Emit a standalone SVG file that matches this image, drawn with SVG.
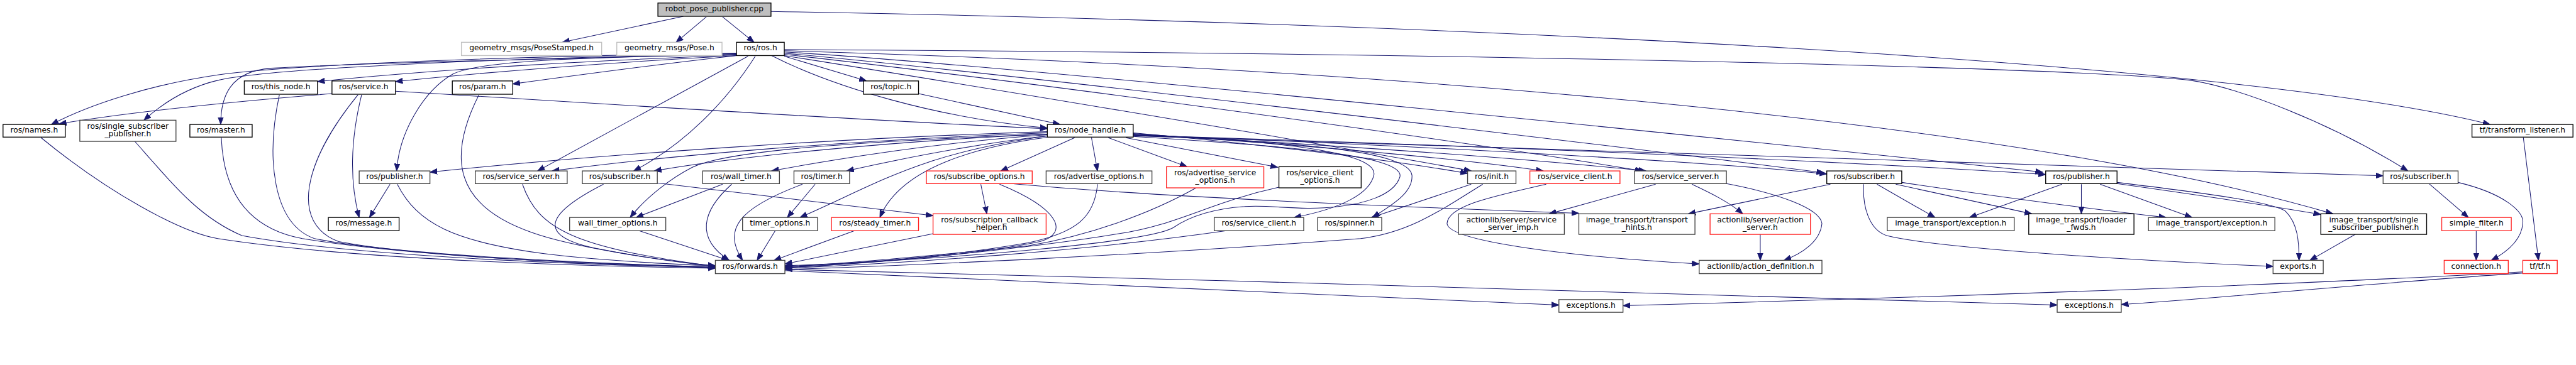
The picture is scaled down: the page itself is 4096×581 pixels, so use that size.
<svg xmlns="http://www.w3.org/2000/svg" width="4096" height="581" viewBox="0 0 4096 581">
<style>
.e{fill:none;stroke:#191970;stroke-width:1.1;marker-end:url(#a)}
.node rect{fill:#fff;stroke-width:1.4}
.b rect{stroke:#000}
.g rect{stroke:#404040}
.r rect{stroke:#ff2020}
.x rect{stroke:#bfbfbf}
.root rect{fill:#bfbfbf;stroke:#000}
text{font-family:"DejaVu Sans","Liberation Sans",sans-serif;font-size:12.8px;text-anchor:middle;fill:#000}
</style>
<defs>
<marker id="a" markerUnits="userSpaceOnUse" markerWidth="14" markerHeight="10" viewBox="0 -5 14 10" refX="12" refY="0" orient="auto"><path d="M0,-4.5L12,0L0,4.5z" fill="#191970" stroke="#191970" stroke-width="1"/></marker>
</defs>
<rect width="4096" height="581" fill="#fff"/>
<g transform="scale(0.9615)">
<g id="edges">
<path class="e" d="M1130,27 L930,70"/>
<path class="e" d="M1168,28 L1118,70"/>
<path class="e" d="M1195,28 L1247,70"/>
<path class="e" d="M1275,19 C2400,38 3700,100 4118,206"/>
<path class="e" d="M1218,88 C900,92 500,105 360,124 C250,140 150,172 85,206"/>
<path class="e" d="M549,155 C450,163 250,180 98,205"/>
<path class="e" d="M1218,89 C850,96 450,112 360,133 C310,145 270,170 238,199"/>
<path class="e" d="M1218,90 C900,98 600,104 448,113 C380,118 365,160 365,206"/>
<path class="e" d="M1218,91 C1000,100 750,112 525,135"/>
<path class="e" d="M1218,92 C1000,104 800,120 654,135"/>
<path class="e" d="M1218,92 C1100,105 950,125 848,139"/>
<path class="e" d="M1218,89 C1000,95 800,98 750,122 C700,150 660,220 656,283"/>
<path class="e" d="M1237,93 L889,283"/>
<path class="e" d="M1249,93 C1200,170 1130,240 1048,283"/>
<path class="e" d="M1297,93 L1433,134"/>
<path class="e" d="M1276,92 C1380,145 1550,195 1732,212"/>
<path class="e" d="M654,151 C1000,172 1400,198 1732,213"/>
<path class="e" d="M1519,155 L1753,206"/>
<path class="e" d="M1297,82 C2400,88 3400,110 3623,133 C3700,145 3850,200 3982,283"/>
<path class="e" d="M1297,84 C2200,110 3300,190 3858,354"/>
<path class="e" d="M1297,86 C1700,110 3000,245 3378,285"/>
<path class="e" d="M1297,88 C1700,125 2700,245 3016,286"/>
<path class="e" d="M1297,90 C1700,135 2400,230 2716,283"/>
<path class="e" d="M1297,92 C1600,140 2200,240 2433,283"/>
<path class="e" d="M1732,218 C1400,228 1000,255 711,285"/>
<path class="e" d="M1732,220 C1400,232 1100,258 913,283"/>
<path class="e" d="M1732,222 C1450,235 1200,262 1082,283"/>
<path class="e" d="M1732,223 C1550,236 1400,260 1276,283"/>
<path class="e" d="M1732,225 C1600,240 1480,265 1400,283"/>
<path class="e" d="M1732,222 C1400,235 1200,250 1145,277 C1110,295 1070,325 1042,360"/>
<path class="e" d="M1733,225 C1520,255 1460,300 1323,360"/>
<path class="e" d="M1734,227 C1560,250 1480,300 1455,360"/>
<path class="e" d="M1777,228 L1655,283"/>
<path class="e" d="M1805,228 L1815,283"/>
<path class="e" d="M1833,228 L1963,276"/>
<path class="e" d="M1862,228 L2113,277"/>
<path class="e" d="M1874,220 C2100,240 2300,265 2427,287"/>
<path class="e" d="M1874,221 C2150,240 2400,260 2552,283"/>
<path class="e" d="M1874,222 C2200,240 2500,260 2722,283"/>
<path class="e" d="M1874,223 C2300,240 2800,265 3021,288"/>
<path class="e" d="M1874,224 C2500,242 3100,270 3383,289"/>
<path class="e" d="M1874,225 C2700,245 3500,280 3941,291"/>
<path class="e" d="M1874,224 C2150,235 2330,250 2335,290 C2337,320 2300,340 2270,360"/>
<path class="e" d="M1874,223 C2100,232 2280,250 2272,290 C2265,320 2220,345 2140,360"/>
<path class="e" d="M1874,226 C2100,240 2325,255 2315,293 C2305,325 2250,338 2213,342 C2150,350 2100,338 2058,342 C2000,346 1965,360 1940,377 C1900,400 1600,428 1298,440"/>
<path class="e" d="M598,157 C580,230 578,300 594,360"/>
<path class="e" d="M645,305 L611,360"/>
<path class="e" d="M657,305 C690,370 750,400 900,420 C1000,432 1100,437 1183,440"/>
<path class="e" d="M1195,305 L1052,360"/>
<path class="e" d="M1348,305 L1302,360"/>
<path class="e" d="M1622,305 L1632,354"/>
<path class="e" d="M1653,305 C1750,345 1770,385 1720,400 C1600,425 1400,438 1298,443"/>
<path class="e" d="M1673,304 C1900,325 2300,342 2611,353"/>
<path class="e" d="M1815,305 C1810,360 1780,385 1700,402 C1550,428 1400,437 1298,441"/>
<path class="e" d="M1978,311 C1900,355 1800,390 1700,407 C1500,428 1400,436 1298,442"/>
<path class="e" d="M2115,310 C2000,335 1950,372 1850,387 C1700,412 1450,436 1298,443"/>
<path class="e" d="M2028,382 C1800,415 1500,436 1298,444"/>
<path class="e" d="M2452,305 C2380,350 2330,385 2250,395 C1900,422 1500,440 1298,446"/>
<path class="e" d="M2433,305 L2268,360"/>
<path class="e" d="M1543,387 L1298,437"/>
<path class="e" d="M1413,382 L1280,431"/>
<path class="e" d="M1282,382 L1252,431"/>
<path class="e" d="M1327,305 C1220,345 1195,380 1228,431"/>
<path class="e" d="M1210,305 C1160,350 1150,395 1206,431"/>
<path class="e" d="M1057,382 L1205,431"/>
<path class="e" d="M998,305 C900,355 890,390 980,410 C1080,430 1150,437 1183,440"/>
<path class="e" d="M864,305 C890,380 950,410 1183,441"/>
<path class="e" d="M792,157 C740,260 750,340 880,385 C950,410 1100,432 1183,441"/>
<path class="e" d="M462,157 C440,260 450,370 520,395 C650,422 1000,437 1183,442"/>
<path class="e" d="M592,157 C500,270 480,370 560,400 C700,427 1000,437 1183,442"/>
<path class="e" d="M366,228 C370,330 420,380 500,395 C700,427 1000,438 1183,443"/>
<path class="e" d="M68,228 C180,320 300,385 360,395 C600,432 1000,441 1183,444"/>
<path class="e" d="M223,234 C290,310 330,360 400,390 C600,427 1000,439 1183,443"/>
<path class="e" d="M1298,448 C1800,470 2300,495 2578,505"/>
<path class="e" d="M1298,446 C2000,465 2900,485 3402,505"/>
<path class="e" d="M4172,452 C3900,470 3600,500 3508,504"/>
<path class="e" d="M4172,450 C3800,472 3100,495 2684,506"/>
<path class="e" d="M2557,305 C2470,325 2395,340 2393,370 C2395,400 2600,425 2810,437"/>
<path class="e" d="M2738,305 L2562,354"/>
<path class="e" d="M2798,305 C2830,320 2860,335 2882,354"/>
<path class="e" d="M2855,304 C2940,320 3010,345 3013,370 C3010,400 2980,420 2950,431"/>
<path class="e" d="M2911,388 L2911,431"/>
<path class="e" d="M3027,305 L2792,354"/>
<path class="e" d="M3082,305 C3080,340 3090,380 3120,390 C3200,410 3500,430 3759,441"/>
<path class="e" d="M3104,305 L3200,360"/>
<path class="e" d="M3135,305 L3360,354"/>
<path class="e" d="M3145,302 C3300,325 3450,345 3582,360"/>
<path class="e" d="M3410,305 L3257,360"/>
<path class="e" d="M3442,305 L3442,354"/>
<path class="e" d="M3473,305 L3625,360"/>
<path class="e" d="M3501,302 C3650,320 3760,335 3780,350 C3800,370 3802,400 3802,431"/>
<path class="e" d="M3501,304 C3650,325 3750,340 3838,355"/>
<path class="e" d="M3895,388 L3820,431"/>
<path class="e" d="M4017,304 L4082,360"/>
<path class="e" d="M4065,302 C4140,320 4175,350 4172,370 C4170,395 4150,415 4120,431"/>
<path class="e" d="M4095,382 L4095,431"/>
<path class="e" d="M4173,228 L4198,431"/>
<path class="e" d="M1087,303 L1543,357"/>
</g>
<g id="n1" class="node root"><rect x="1088" y="5" width="187" height="22"/><text x="1181.5" y="18.7">robot_pose_publisher.cpp</text></g>
<g id="n2" class="node x"><rect x="763" y="70" width="232" height="22"/><text x="879" y="83.7">geometry_msgs/PoseStamped.h</text></g>
<g id="n3" class="node x"><rect x="1020" y="70" width="174" height="22"/><text x="1107" y="83.7">geometry_msgs/Pose.h</text></g>
<g id="n4" class="node b"><rect x="1218" y="70" width="79" height="22"/><text x="1257.5" y="83.7">ros/ros.h</text></g>
<g id="n5" class="node b"><rect x="5" y="206" width="103" height="21"/><text x="56.5" y="219.5">ros/names.h</text></g>
<g id="n6" class="node g"><rect x="132" y="199" width="159" height="35"/><text x="211.5" y="213">ros/single_subscriber</text><text x="211.5" y="226">_publisher.h</text></g>
<g id="n7" class="node b"><rect x="314" y="206" width="103" height="21"/><text x="365.5" y="219.5">ros/master.h</text></g>
<g id="n8" class="node b"><rect x="404" y="134" width="121" height="22"/><text x="464.5" y="147.7">ros/this_node.h</text></g>
<g id="n9" class="node b"><rect x="549" y="134" width="105" height="22"/><text x="601.5" y="147.7">ros/service.h</text></g>
<g id="n10" class="node b"><rect x="748" y="134" width="100" height="22"/><text x="798" y="147.7">ros/param.h</text></g>
<g id="n11" class="node b"><rect x="1428" y="134" width="91" height="22"/><text x="1473.5" y="147.7">ros/topic.h</text></g>
<g id="n12" class="node b"><rect x="1732" y="206" width="142" height="21"/><text x="1803" y="219.5">ros/node_handle.h</text></g>
<g id="n13" class="node g"><rect x="594" y="283" width="117" height="21"/><text x="652.5" y="296.5">ros/publisher.h</text></g>
<g id="n14" class="node g"><rect x="786" y="283" width="152" height="21"/><text x="862" y="296.5">ros/service_server.h</text></g>
<g id="n15" class="node g"><rect x="963" y="283" width="124" height="21"/><text x="1025" y="296.5">ros/subscriber.h</text></g>
<g id="n16" class="node g"><rect x="1162" y="283" width="127" height="21"/><text x="1225.5" y="296.5">ros/wall_timer.h</text></g>
<g id="n17" class="node g"><rect x="1313" y="283" width="92" height="21"/><text x="1359" y="296.5">ros/timer.h</text></g>
<g id="n18" class="node r"><rect x="1532" y="283" width="175" height="21"/><text x="1619.5" y="296.5">ros/subscribe_options.h</text></g>
<g id="n19" class="node g"><rect x="1730" y="283" width="175" height="21"/><text x="1817.5" y="296.5">ros/advertise_options.h</text></g>
<g id="n20" class="node r"><rect x="1929" y="276" width="161" height="35"/><text x="2009.5" y="290">ros/advertise_service</text><text x="2009.5" y="303">_options.h</text></g>
<g id="n21" class="node b"><rect x="2115" y="276" width="136" height="35"/><text x="2183" y="290">ros/service_client</text><text x="2183" y="303">_options.h</text></g>
<g id="n22" class="node g"><rect x="2427" y="283" width="80" height="21"/><text x="2467" y="296.5">ros/init.h</text></g>
<g id="n23" class="node r"><rect x="2530" y="283" width="149" height="21"/><text x="2604.5" y="296.5">ros/service_client.h</text></g>
<g id="n24" class="node g"><rect x="2703" y="283" width="152" height="21"/><text x="2779" y="296.5">ros/service_server.h</text></g>
<g id="n25" class="node b"><rect x="3021" y="283" width="124" height="21"/><text x="3083" y="296.5">ros/subscriber.h</text></g>
<g id="n26" class="node b"><rect x="3383" y="283" width="118" height="21"/><text x="3442" y="296.5">ros/publisher.h</text></g>
<g id="n27" class="node g"><rect x="3941" y="283" width="124" height="21"/><text x="4003" y="296.5">ros/subscriber.h</text></g>
<g id="n28" class="node b"><rect x="4088" y="206" width="167" height="21"/><text x="4171.5" y="219.5">tf/transform_listener.h</text></g>
<g id="n29" class="node b"><rect x="543" y="360" width="117" height="22"/><text x="601.5" y="373.7">ros/message.h</text></g>
<g id="n30" class="node g"><rect x="942" y="360" width="159" height="22"/><text x="1021.5" y="373.7">wall_timer_options.h</text></g>
<g id="n31" class="node g"><rect x="1228" y="360" width="124" height="22"/><text x="1290" y="373.7">timer_options.h</text></g>
<g id="n32" class="node r"><rect x="1375" y="360" width="144" height="22"/><text x="1447" y="373.7">ros/steady_timer.h</text></g>
<g id="n33" class="node r"><rect x="1543" y="354" width="187" height="34"/><text x="1636.5" y="368">ros/subscription_callback</text><text x="1636.5" y="381">_helper.h</text></g>
<g id="n34" class="node g"><rect x="2008" y="360" width="148" height="22"/><text x="2082" y="373.7">ros/service_client.h</text></g>
<g id="n35" class="node g"><rect x="2179" y="360" width="106" height="22"/><text x="2232" y="373.7">ros/spinner.h</text></g>
<g id="n36" class="node g"><rect x="2412" y="354" width="175" height="34"/><text x="2499.5" y="368">actionlib/server/service</text><text x="2499.5" y="381">_server_imp.h</text></g>
<g id="n37" class="node g"><rect x="2611" y="354" width="192" height="34"/><text x="2707" y="368">image_transport/transport</text><text x="2707" y="381">_hints.h</text></g>
<g id="n38" class="node r"><rect x="2828" y="354" width="166" height="34"/><text x="2911" y="368">actionlib/server/action</text><text x="2911" y="381">_server.h</text></g>
<g id="n39" class="node g"><rect x="3121" y="360" width="210" height="22"/><text x="3226" y="373.7">image_transport/exception.h</text></g>
<g id="n40" class="node b"><rect x="3355" y="354" width="174" height="34"/><text x="3442" y="368">image_transport/loader</text><text x="3442" y="381">_fwds.h</text></g>
<g id="n41" class="node g"><rect x="3553" y="360" width="209" height="22"/><text x="3657.5" y="373.7">image_transport/exception.h</text></g>
<g id="n42" class="node b"><rect x="3838" y="354" width="175" height="34"/><text x="3925.5" y="368">image_transport/single</text><text x="3925.5" y="381">_subscriber_publisher.h</text></g>
<g id="n43" class="node r"><rect x="4038" y="360" width="115" height="22"/><text x="4095.5" y="373.7">simple_filter.h</text></g>
<g id="n44" class="node g"><rect x="1183" y="431" width="115" height="22"/><text x="1240.5" y="444.7">ros/forwards.h</text></g>
<g id="n45" class="node g"><rect x="2810" y="431" width="203" height="22"/><text x="2911.5" y="444.7">actionlib/action_definition.h</text></g>
<g id="n46" class="node g"><rect x="3759" y="431" width="83" height="22"/><text x="3800.5" y="444.7">exports.h</text></g>
<g id="n47" class="node r"><rect x="4042" y="431" width="106" height="22"/><text x="4095" y="444.7">connection.h</text></g>
<g id="n48" class="node r"><rect x="4172" y="431" width="57" height="22"/><text x="4200.5" y="444.7">tf/tf.h</text></g>
<g id="n49" class="node g"><rect x="2578" y="496" width="106" height="21"/><text x="2631" y="509.5">exceptions.h</text></g>
<g id="n50" class="node g"><rect x="3402" y="496" width="106" height="21"/><text x="3455" y="509.5">exceptions.h</text></g>
</g>
</svg>
